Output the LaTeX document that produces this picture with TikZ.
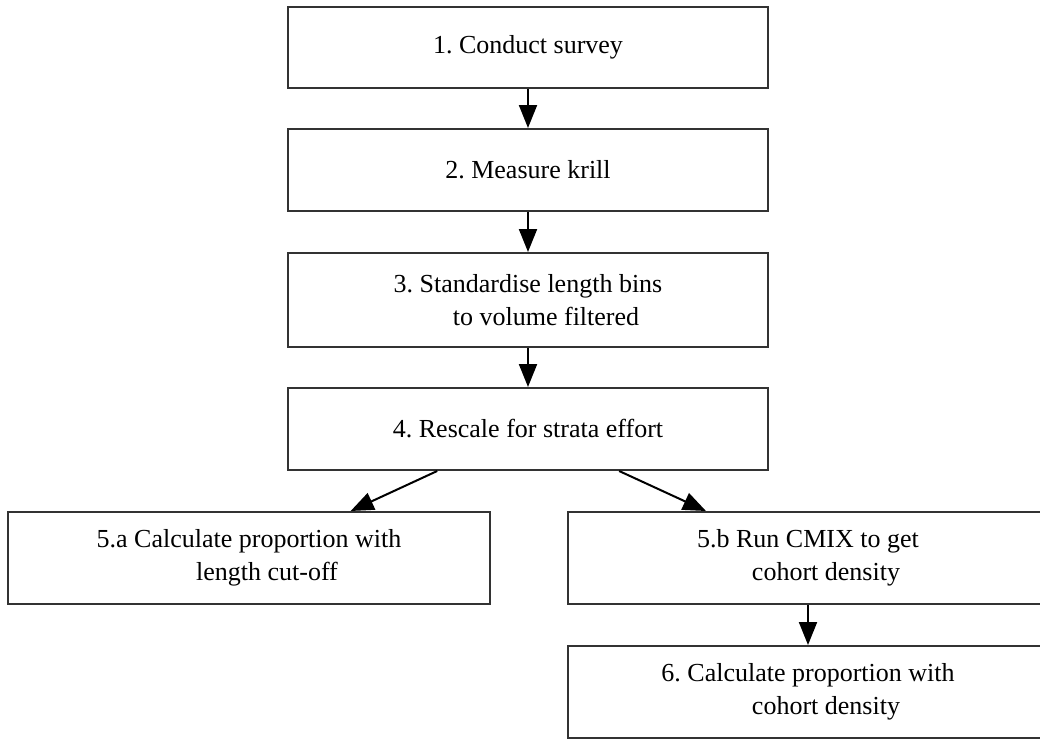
\documentclass[tikz,border=0pt]{standalone}
\usepackage{fontspec}
\setmainfont{Liberation Serif}
\usetikzlibrary{arrows.meta}
\frenchspacing

\begin{document}
\begin{tikzpicture}[x=1pt, y=-1pt]
	\tikzstyle{step_box} = [rectangle, draw=black!80, line width=2pt, fill=white, minimum width=480pt, inner sep=0pt, align=center, font=\fontsize{26}{33}\selectfont]
	\tikzstyle{step_arrow} = [draw=black, line width=2pt, -{Triangle[length=23pt, width=18pt]}]

	\useasboundingbox (0,0) rectangle (1040,740);

%------------------------------------------------------------
	\node[step_box, minimum height=81pt] (s1) at (528,47.5) {1. Conduct survey};
	\node[step_box, minimum height=82pt] (s2) at (528,170) {2. Measure krill};
	\node[step_box, minimum height=94pt] (s3) at (528,300) {3. Standardise length bins\\\hspace*{36pt}to volume filtered};
	\node[step_box, minimum height=82pt] (s4) at (528,429) {4. Rescale for strata effort};

%------------------------------------------------------------

	\node[step_box, minimum height=92pt, minimum width=482pt] (s5a) at (249,558) {5.a Calculate proportion with\\\hspace*{36pt}length cut-off};
	\node[step_box, minimum height=92pt] (s5b) at (808,558) {5.b Run CMIX to get\\\hspace*{36pt}cohort density};

%------------------------------------------------------------

	\node[step_box, minimum height=92pt] (s6) at (808,692) {6. Calculate proportion with\\\hspace*{36pt}cohort density};

%------------------------------------------------------------

	\path[step_arrow] (s1) -- (s2);
	\path[step_arrow] (s2) -- (s3);
	\path[step_arrow] (s3) -- (s4);
	\path[step_arrow] (s4) -- (s5a);
	\path[step_arrow] (s4) -- (s5b);
	\path[step_arrow] (s5b) -- (s6);

\end{tikzpicture}
\end{document}
